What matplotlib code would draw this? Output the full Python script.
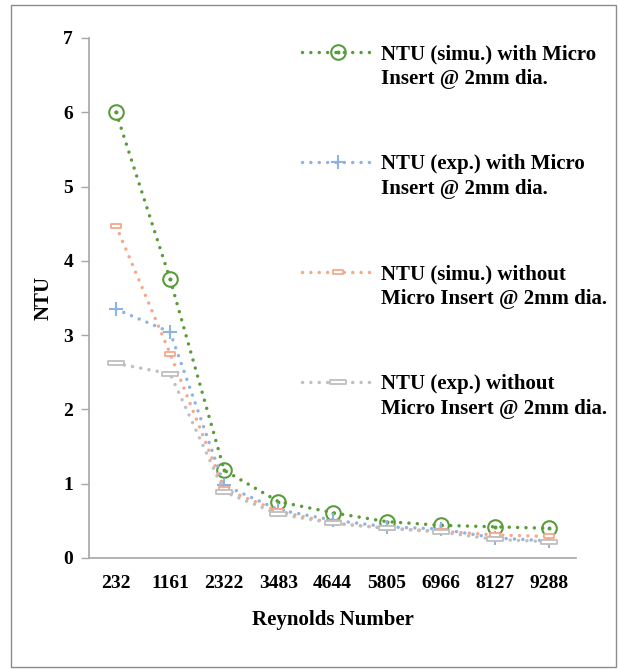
import matplotlib
matplotlib.use("Agg")
import matplotlib.pyplot as plt
from matplotlib.path import Path
from matplotlib.patches import Rectangle
import numpy as np

categories = ["232", "1161", "2322", "3483", "4644", "5805", "6966", "8127", "9288"]
simu_with = [6.0, 3.75, 1.18, 0.76, 0.61, 0.49, 0.44, 0.42, 0.40]
exp_with = [3.35, 3.04, 0.98, 0.65, 0.51, 0.42, 0.39, 0.27, 0.23]
simu_without = [4.47, 2.75, 0.93, 0.63, 0.47, 0.40, 0.36, 0.31, 0.29]
exp_without = [2.62, 2.48, 0.89, 0.59, 0.47, 0.40, 0.35, 0.25, 0.22]

labels = [
    ("NTU (simu.) with Micro", "Insert @ 2mm dia."),
    ("NTU (exp.) with Micro", "Insert @ 2mm dia."),
    ("NTU (simu.) without", "Micro Insert @ 2mm dia."),
    ("NTU (exp.) without", "Micro Insert @ 2mm dia."),
]

W, H = 619, 669
fig = plt.figure(figsize=(W / 100, H / 100), dpi=100)
ax = fig.add_axes([89 / W, 1 - 558 / H, (576 - 89) / W, (558 - 38) / H])

serif = "Liberation Serif"
x = np.arange(len(categories))

circ_dot = Path.make_compound_path(Path.circle((0, 0), 1.0), Path.circle((0, 0), 0.13))
dash_box = Path([(-1, -0.32), (1, -0.32), (1, 0.32), (-1, 0.32), (-1, -0.32)],
                [Path.MOVETO, Path.LINETO, Path.LINETO, Path.LINETO, Path.CLOSEPOLY])

ls = (0, (0.01, 2.4))
lw = 2.5
green, blue, orange, gray = "#5A9C3A", "#8DB4E2", "#F4A98A", "#BFBFBF"

h1, = ax.plot(x, simu_with, color=green, lw=lw, linestyle=ls, dash_capstyle="round",
              marker=circ_dot, markersize=10.5, markerfacecolor="none",
              markeredgecolor=green, markeredgewidth=1.5)
h2, = ax.plot(x, exp_with, color=blue, lw=lw, linestyle=ls, dash_capstyle="round",
              marker="+", markersize=10, markeredgecolor=blue, markeredgewidth=1.5)
h3, = ax.plot(x, simu_without, color=orange, lw=lw, linestyle=ls, dash_capstyle="round",
              marker=dash_box, markersize=7, markerfacecolor="white",
              markeredgecolor=orange, markeredgewidth=1.3)
h4, = ax.plot(x, exp_without, color=gray, lw=lw, linestyle=ls, dash_capstyle="round",
              marker=dash_box, markersize=11, markerfacecolor="white",
              markeredgecolor=gray, markeredgewidth=1.3)

ax.set_xlim(-0.5, len(categories) - 0.5)
ax.set_ylim(0, 7)
ax.set_yticks(range(0, 8))
ax.set_xticks(x)
ax.set_xticklabels(categories)
for s in ("top", "right"):
    ax.spines[s].set_visible(False)
for s in ("left", "bottom"):
    ax.spines[s].set_color("#A6A6A6")
    ax.spines[s].set_linewidth(1.2)
ax.tick_params(axis="y", length=6, color="#A6A6A6", width=1.0, pad=5.5)
ax.tick_params(axis="x", length=0, pad=12)
for t in ax.get_xticklabels() + ax.get_yticklabels():
    t.set_fontfamily(serif)
    t.set_fontweight("bold")
    t.set_fontsize(14)

ax.set_xlabel("Reynolds Number", fontfamily=serif, fontweight="bold", fontsize=15, labelpad=13)
ax.set_ylabel("NTU", fontfamily=serif, fontweight="bold", fontsize=15, labelpad=7)

leg_fs = 15
leg = ax.legend([h1, h2, h3, h4], [l[0] for l in labels],
                loc="upper left", bbox_to_anchor=(302 / W, 1 - 44 / H),
                bbox_transform=fig.transFigure, frameon=False, borderpad=0,
                borderaxespad=0, handlelength=3.5, handletextpad=0.28,
                labelspacing=4.32, prop={"family": serif, "weight": "bold", "size": leg_fs})
for txt, lab in zip(leg.get_texts(), labels):
    ax.annotate(lab[1], xy=(0, 0), xycoords=txt, xytext=(0, -3.3), textcoords="offset points",
                va="top", ha="left", fontfamily=serif, fontweight="bold", fontsize=leg_fs,
                zorder=10, annotation_clip=False)

fig.patches.append(Rectangle((11 / W, 1 - 667 / H), (616 - 11) / W, (667 - 5) / H,
                             transform=fig.transFigure, fill=False, edgecolor="#8C8C8C",
                             linewidth=1.0))

fig.savefig("out.png", dpi=100)
